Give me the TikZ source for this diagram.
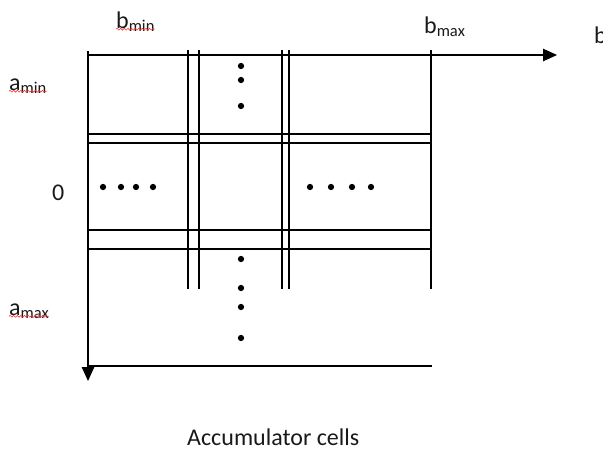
\documentclass[tikz,border=0pt]{standalone}
\usepackage{fontspec}
\setmainfont{Carlito}
\usetikzlibrary{arrows.meta}
\usetikzlibrary{decorations.pathmorphing}
\tikzset{cell line/.style={line width=1.1pt,line cap=rect}}
\tikzset{axis line/.style={line width=1.1pt,-{Triangle[length=14pt,width=12.5pt]}}}
\tikzset{dot/.style={circle,fill=black,inner sep=0pt,minimum size=6.3pt}}
\tikzset{lbl/.style={inner sep=0pt,anchor=base west,font=\fontsize{24}{28}\selectfont,text=black!90}}
\tikzset{spell/.style={red!80,line width=0.6pt,decorate,decoration={snake,amplitude=0.9pt,segment length=3.6pt}}}
\newcommand{\subtxt}[1]{\raisebox{-3pt}{\fontsize{16.5}{19}\selectfont #1}}

\begin{document}
\begin{tikzpicture}[x=1pt,y=-1pt]
    \useasboundingbox (0,0) rectangle (603,448);

    % axes
    \coordinate (o) at (88,51);
    \coordinate (bend) at (557,55);
    \coordinate (bstart) at (88,55);
    \coordinate (aend) at (88,381);
    \draw[axis line] (bstart) -- (bend);
    \draw[axis line] (o) -- (aend);

    % cell boundaries
    \foreach \n/\x in {c1/188,c2/199,c3/282,c4/289,c5/431} {
        \coordinate (\n t) at (\x,51);
        \coordinate (\n b) at (\x,288);
        \draw[cell line] (\n t) -- (\n b);
    }
    \foreach \n/\y in {r1/134,r2/143,r3/230,r4/249,r5/366} {
        \coordinate (\n l) at (88,\y);
        \coordinate (\n r) at (431,\y);
        \draw[cell line] (\n l) -- (\n r);
    }

    % dots
    \foreach \y [count=\i] in {66,80,106} \node[dot] (top\i) at (241,\y) {};
    \foreach \y [count=\i] in {259,288,307,338} \node[dot] (low\i) at (241,\y) {};
    \foreach \x [count=\i] in {103,121,136,153} \node[dot] (left\i) at (\x,187) {};
    \foreach \x [count=\i] in {310,331,352,371} \node[dot] (right\i) at (\x,187) {};

    % labels
    \node[lbl] (bmin) at (116,28) {b\subtxt{min}};
    \node[lbl] (bmax) at (424,33) {b\subtxt{max}};
    \node[lbl] (baxis) at (594,43) {b};
    \node[lbl] (amin) at (9,90) {a\subtxt{min}};
    \node[lbl] (amax) at (9,315) {a\subtxt{max}};
    \node[lbl] (zero) at (52,200) {0};
    \node[lbl] (caption) at (187,445) {Accumulator cells};

    \draw[spell] ([yshift=2pt]bmin.south west) -- ([yshift=2pt]bmin.south east);
    \draw[spell] ([yshift=2pt]amin.south west) -- ([yshift=2pt]amin.south east);
    \draw[spell] ([yshift=2pt]amax.south west) -- ([yshift=2pt]amax.south east);
\end{tikzpicture}
\end{document}
